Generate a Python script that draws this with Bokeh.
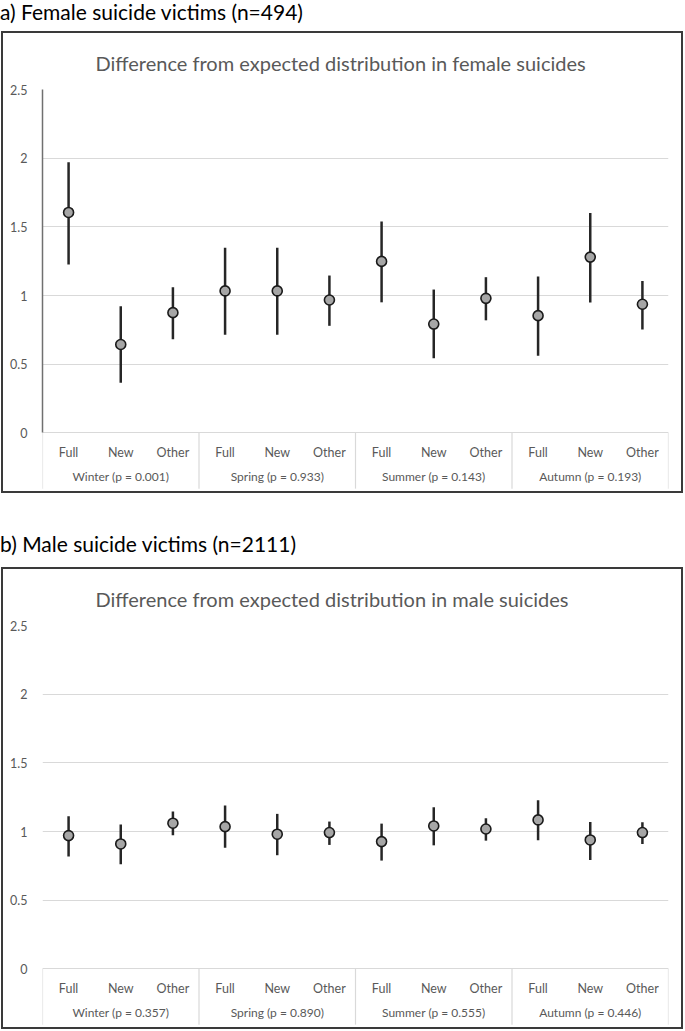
from bokeh.plotting import figure
from bokeh.models import FactorRange, Range1d, FixedTicker, Div
from bokeh.layouts import column
from bokeh.embed import file_html
from bokeh.resources import INLINE

# ---- data ----
groups = ["Full", "New", "Other"]
seasons_f = ["Winter (p = 0.001)", "Spring (p = 0.933)", "Summer (p = 0.143)", "Autumn (p = 0.193)"]
seasons_m = ["Winter (p = 0.357)", "Spring (p = 0.890)", "Summer (p = 0.555)", "Autumn (p = 0.446)"]

female_mid = [1.605, 0.644, 0.876, 1.034, 1.034, 0.968, 1.249, 0.793, 0.980, 0.854, 1.280, 0.937]
female_lo = [1.227, 0.366, 0.683, 0.715, 0.715, 0.780, 0.951, 0.544, 0.820, 0.563, 0.949, 0.754]
female_hi = [1.970, 0.922, 1.061, 1.349, 1.349, 1.146, 1.539, 1.044, 1.134, 1.139, 1.602, 1.107]

male_mid = [0.971, 0.910, 1.061, 1.036, 0.981, 0.993, 0.927, 1.041, 1.019, 1.085, 0.939, 0.993]
male_lo = [0.818, 0.762, 0.973, 0.883, 0.828, 0.903, 0.789, 0.900, 0.934, 0.937, 0.794, 0.910]
male_hi = [1.112, 1.051, 1.146, 1.189, 1.129, 1.073, 1.058, 1.177, 1.097, 1.228, 1.070, 1.068]

y_ticks = [0, 0.5, 1, 1.5, 2, 2.5]

FONT = "Lato"
GRAY = "#595959"
Y_BOTTOM = -0.455   # frame extends below 0 to hold the category axis
SEP_BOTTOM = -0.405  # depth of the season separators


def make_panel(title, seasons, mid, lo, hi, show_yline):
    factors = [(s, g) for s in seasons for g in groups]
    xr = FactorRange(factors=factors, factor_padding=0, group_padding=0, range_padding=0)
    p = figure(x_range=xr, y_range=Range1d(Y_BOTTOM, y_ticks[-1]),
               width=682, height=462, output_backend="svg", toolbar_location=None,
               min_border_left=39, min_border_right=17, min_border_top=56, min_border_bottom=0,
               tools="", margin=(0, 0, 0, 1))
    p.styles = {"border": "2px solid #3a3a3a", "box-sizing": "border-box"}
    p.outline_line_color = None
    p.background_fill_color = "white"
    p.border_fill_color = "white"

    p.title.text = title
    p.title.align = "left"
    p.title.offset = 53
    p.title.standoff = 30
    p.title.text_font = FONT
    p.title.text_font_size = "20px"
    p.title.text_font_style = "normal"
    p.title.text_color = GRAY

    p.xgrid.visible = False
    p.ygrid.ticker = FixedTicker(ticks=y_ticks)
    p.ygrid.grid_line_color = "#d9d9d9"

    ya = p.yaxis[0]
    ya.ticker = FixedTicker(ticks=y_ticks)
    ya.major_label_overrides = {t: f"{t:g}" for t in y_ticks}
    ya.major_tick_line_color = None
    ya.minor_tick_line_color = None
    ya.axis_line_color = "#707070" if show_yline else None
    ya.axis_line_width = 1.5
    ya.bounds = (y_ticks[0], y_ticks[-1])
    ya.major_label_text_font = FONT
    ya.major_label_text_font_size = "12.5px"
    ya.major_label_text_color = GRAY
    ya.major_label_standoff = 9

    xa = p.xaxis[0]
    xa.fixed_location = 0
    xa.axis_line_color = "#d9d9d9"
    xa.major_tick_line_color = None
    xa.minor_tick_line_color = None
    xa.separator_line_color = None
    xa.major_label_text_font = FONT
    xa.major_label_text_font_size = "12.5px"
    xa.major_label_text_color = GRAY
    xa.major_label_standoff = 6
    xa.group_text_font = FONT
    xa.group_text_font_size = "12px"
    xa.group_text_font_style = "normal"
    xa.group_text_color = GRAY

    # separators between seasons (and at both edges)
    n = len(groups)
    bounds = [i * n for i in range(len(seasons) + 1)]
    p.segment(x0=bounds, y0=[0] * len(bounds), x1=bounds, y1=[SEP_BOTTOM] * len(bounds),
              line_color="#d9d9d9", line_width=1.2)

    p.segment(x0=factors, y0=lo, x1=factors, y1=hi, line_color="#262626", line_width=2.5)
    p.scatter(x=factors, y=mid, size=10, fill_color="#a6a6a6", line_color="#1a1a1a", line_width=1.6)
    return p


div_a = Div(text='<div style="font-family:Lato;font-size:21px;line-height:22px;color:#000;margin:0;padding-top:1px;">'
                 'a) Female suicide victims (n=494)</div>', width=684, height=31, margin=0)
div_b = Div(text='<div style="font-family:Lato;font-size:21px;line-height:22px;color:#000;margin:0;padding-top:40px;">'
                 'b) Male suicide victims (n=2111)</div>', width=684, height=74, margin=0)

p_a = make_panel("Difference from expected distribution in female suicides", seasons_f,
                 female_mid, female_lo, female_hi, True)
p_b = make_panel("Difference from expected distribution in male suicides", seasons_m,
                 male_mid, male_lo, male_hi, False)

layout = column(div_a, p_a, div_b, p_b, spacing=0, margin=0)
open("out.html", "w").write(file_html(layout, INLINE))
